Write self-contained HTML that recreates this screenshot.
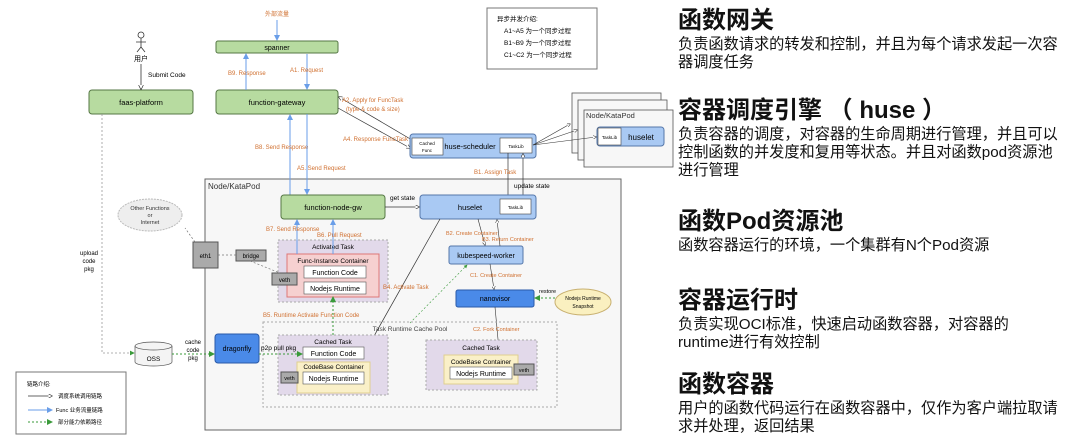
<!DOCTYPE html>
<html><head><meta charset="utf-8"><style>
body{margin:0;background:#fff;width:1080px;height:442px;overflow:hidden;font-family:"Liberation Sans","Noto Sans CJK SC",sans-serif}
svg{position:absolute;left:0;top:0}
.r{position:absolute;left:678px;color:#111}
.t{font-size:24px;font-weight:bold;line-height:28px}
.b{font-size:15.2px;line-height:18px;white-space:nowrap}
</style></head><body>
<svg width="680" height="442" viewBox="0 0 680 442" font-family="Liberation Sans, Noto Sans CJK SC, sans-serif">
<defs>
<marker id="ab" markerWidth="6" markerHeight="6" refX="5" refY="3" orient="auto"><path d="M0,0 L6,3 L0,6" fill="#fff" stroke="#222" stroke-width="0.8"/></marker>
<marker id="ablue" markerWidth="6" markerHeight="6" refX="5" refY="3" orient="auto"><path d="M0,0 L6,3 L0,6z" fill="#6a9ee8"/></marker>
<marker id="ag" markerWidth="6" markerHeight="6" refX="5" refY="3" orient="auto"><path d="M0,0 L6,3 L0,6z" fill="#3a9a3a"/></marker>
</defs>
<rect x="205" y="179" width="416" height="251" fill="#f7f7f7" stroke="#666"/>
<text x="208" y="189" font-size="8" fill="#333">Node/KataPod</text>
<rect x="572" y="93" width="89" height="60" fill="#f7f7f7" stroke="#555" stroke-width="0.8"/>
<rect x="578" y="100" width="89" height="60" fill="#f7f7f7" stroke="#555" stroke-width="0.8"/>
<rect x="584" y="110" width="89" height="57" fill="#f7f7f7" stroke="#555" stroke-width="0.8"/>
<text x="586" y="118" font-size="7.5" fill="#333">Node/KataPod</text>
<rect x="597" y="127" width="67" height="19" rx="3" fill="#a9c9f3" stroke="#5577aa"/>
<rect x="598" y="128" width="23" height="17" fill="#fff" stroke="#444" stroke-width="0.6"/>
<text x="609.5" y="139" font-size="4.5" text-anchor="middle">TaskLib</text>
<text x="641" y="140" font-size="8" text-anchor="middle">huselet</text>
<rect x="487" y="8" width="110" height="61" fill="#fff" stroke="#777"/>
<text x="497" y="21" font-size="6.5">异步并发介绍:</text>
<text x="504" y="33" font-size="6.5">A1~A5 为一个同步过程</text>
<text x="504" y="45" font-size="6.5">B1~B9 为一个同步过程</text>
<text x="504" y="57" font-size="6.5">C1~C2 为一个同步过程</text>
<text x="277" y="16" font-size="6" fill="#d07030" text-anchor="middle">外部流量</text>
<line x1="277" y1="20" x2="277" y2="40" stroke="#6a9ee8" marker-end="url(#ablue)"/>
<rect x="216" y="41" width="122" height="12" rx="2" fill="#b7dba0" stroke="#557744"/>
<text x="277" y="50" font-size="7" text-anchor="middle">spanner</text>
<rect x="216" y="90" width="122" height="24" rx="3" fill="#b7dba0" stroke="#557744"/>
<text x="277" y="105" font-size="7.5" text-anchor="middle">function-gateway</text>
<rect x="89" y="90" width="104" height="24" rx="3" fill="#b7dba0" stroke="#557744"/>
<text x="141" y="105" font-size="7.5" text-anchor="middle">faas-platform</text>
<circle cx="141" cy="35" r="3" fill="none" stroke="#333" stroke-width="0.8"/>
<path d="M141 38 V47 M136 42 H146 M141 47 L137 52 M141 47 L145 52" stroke="#333" stroke-width="0.8" fill="none"/>
<text x="141" y="61" font-size="7" text-anchor="middle">用户</text>
<line x1="141" y1="64" x2="141" y2="89" stroke="#333" stroke-width="0.8" marker-end="url(#ab)"/>
<text x="148" y="77" font-size="6.5">Submit Code</text>
<line x1="246" y1="90" x2="246" y2="54" stroke="#6a9ee8" marker-end="url(#ablue)"/>
<text x="228" y="75" font-size="6" fill="#d07030">B9. Response</text>
<line x1="307" y1="54" x2="307" y2="89" stroke="#6a9ee8" marker-end="url(#ablue)"/>
<text x="290" y="72" font-size="6" fill="#d07030">A1. Request</text>
<line x1="290" y1="195" x2="290" y2="115" stroke="#6a9ee8" marker-end="url(#ablue)"/>
<text x="255" y="149" font-size="6" fill="#d07030">B8. Send Response</text>
<line x1="307" y1="114" x2="307" y2="194" stroke="#6a9ee8" marker-end="url(#ablue)"/>
<text x="297" y="170" font-size="6" fill="#d07030">A5. Send Request</text>
<line x1="338" y1="108" x2="410" y2="148" stroke="#333" stroke-width="0.7" marker-end="url(#ab)"/>
<line x1="412" y1="140" x2="339" y2="97" stroke="#333" stroke-width="0.7" marker-end="url(#ab)"/>
<text x="342" y="102" font-size="6" fill="#d07030">A2. Apply for FuncTask</text>
<text x="346" y="111" font-size="6" fill="#d07030">(type &amp; code &amp; size)</text>
<text x="343" y="141" font-size="6" fill="#d07030">A4. Response FuncTask</text>
<rect x="410" y="134" width="126" height="24" rx="3" fill="#a9c9f3" stroke="#5577aa"/>
<rect x="412" y="138" width="31" height="17" fill="#fff" stroke="#444" stroke-width="0.6"/>
<text x="427" y="145" font-size="4.5" text-anchor="middle">Cached</text>
<text x="427" y="152" font-size="4.5" text-anchor="middle">Func</text>
<text x="470" y="149" font-size="7.5" text-anchor="middle">huse-scheduler</text>
<rect x="500" y="138" width="32" height="15" fill="#fff" stroke="#444" stroke-width="0.6"/>
<text x="516" y="148" font-size="4.5" text-anchor="middle">TaskLib</text>
<line x1="533" y1="145" x2="570" y2="124" stroke="#333" stroke-width="0.6" marker-end="url(#ab)"/>
<line x1="533" y1="145" x2="577" y2="130" stroke="#333" stroke-width="0.6" marker-end="url(#ab)"/>
<line x1="533" y1="145" x2="596" y2="137" stroke="#333" stroke-width="0.6" marker-end="url(#ab)"/>
<line x1="508" y1="153" x2="508" y2="198" stroke="#333" stroke-width="0.7" marker-end="url(#ab)"/>
<line x1="523" y1="199" x2="523" y2="154" stroke="#333" stroke-width="0.7" marker-end="url(#ab)"/>
<text x="474" y="174" font-size="6" fill="#d07030">B1. Assign Task</text>
<text x="514" y="188" font-size="6.5">update state</text>
<rect x="281" y="195" width="104" height="24" rx="3" fill="#b7dba0" stroke="#557744"/>
<text x="333" y="210" font-size="7.5" text-anchor="middle">function-node-gw</text>
<line x1="385" y1="207" x2="419" y2="207" stroke="#333" stroke-width="0.7" marker-end="url(#ab)"/>
<text x="390" y="200" font-size="6.5">get state</text>
<rect x="420" y="195" width="116" height="24" rx="3" fill="#a9c9f3" stroke="#5577aa"/>
<text x="470" y="210" font-size="7.5" text-anchor="middle">huselet</text>
<rect x="500" y="199" width="31" height="15" fill="#fff" stroke="#444" stroke-width="0.6"/>
<text x="515.5" y="209" font-size="4.5" text-anchor="middle">TaskLib</text>
<rect x="278" y="240" width="110" height="62" fill="#e2d9ea" stroke="#aaa" stroke-dasharray="2,2"/>
<text x="333" y="249" font-size="6.5" text-anchor="middle">Activated Task</text>
<rect x="287" y="254" width="92" height="43" fill="#f6d0d0" stroke="#d77"/>
<text x="333" y="263" font-size="6.5" text-anchor="middle">Func-Instance Container</text>
<rect x="304" y="266" width="62" height="12" fill="#fff" stroke="#555" stroke-width="0.6"/>
<text x="335" y="275" font-size="7" text-anchor="middle">Function Code</text>
<rect x="304" y="282" width="62" height="12" fill="#fff" stroke="#555" stroke-width="0.6"/>
<text x="335" y="291" font-size="7" text-anchor="middle">Nodejs Runtime</text>
<rect x="272" y="273" width="25" height="12" fill="#aaa" stroke="#555"/>
<text x="284.5" y="282" font-size="6" text-anchor="middle">veth</text>
<line x1="297" y1="254" x2="297" y2="220" stroke="#6a9ee8" marker-end="url(#ablue)"/>
<line x1="333" y1="254" x2="333" y2="220" stroke="#6a9ee8" marker-end="url(#ablue)"/>
<text x="266" y="231" font-size="6" fill="#d07030">B7. Send Response</text>
<text x="317" y="237" font-size="6" fill="#d07030">B6. Pull Request</text>
<rect x="193" y="242" width="25" height="26" fill="#aaa" stroke="#555"/>
<text x="205.5" y="258" font-size="6" text-anchor="middle">eth1</text>
<rect x="236" y="250" width="30" height="11" fill="#aaa" stroke="#555"/>
<text x="251" y="258" font-size="6" text-anchor="middle">bridge</text>
<path d="M218 255 H236 M250 261 L280 273 M195 242 L185 228" stroke="#777" stroke-dasharray="2,2" fill="none" stroke-width="0.7"/>
<ellipse cx="150" cy="215" rx="32" ry="16" fill="#eee" stroke="#bbb" stroke-dasharray="2,1"/>
<text x="150" y="210" font-size="5.5" fill="#333" text-anchor="middle">Other Functions</text>
<text x="150" y="217" font-size="5.5" fill="#333" text-anchor="middle">or</text>
<text x="150" y="224" font-size="5.5" fill="#333" text-anchor="middle">Internet</text>
<rect x="449" y="246" width="74" height="18" rx="2" fill="#a9c9f3" stroke="#5577aa"/>
<text x="486" y="258" font-size="7" text-anchor="middle">kubespeed-worker</text>
<rect x="456" y="290" width="78" height="17" rx="2" fill="#4a8ae8" stroke="#2a5aa8"/>
<text x="495" y="301" font-size="7" text-anchor="middle">nanovisor</text>
<ellipse cx="583" cy="302" rx="28" ry="13" fill="#faf0c0" stroke="#c8b070"/>
<text x="583" y="300" font-size="5" text-anchor="middle">Nodejs Runtime</text>
<text x="583" y="308" font-size="5" text-anchor="middle">Snapshot</text>
<line x1="555" y1="298" x2="535" y2="298" stroke="#3a9a3a" stroke-dasharray="2,2" marker-end="url(#ag)"/>
<text x="539" y="293" font-size="5.5">restore</text>
<line x1="478" y1="219" x2="485" y2="245" stroke="#333" stroke-width="0.6" marker-end="url(#ab)"/>
<line x1="500" y1="246" x2="497" y2="220" stroke="#333" stroke-width="0.6" marker-end="url(#ab)"/>
<text x="446" y="235" font-size="5.5" fill="#d07030">B2. Create Container</text>
<text x="482" y="241" font-size="5.5" fill="#d07030">B3. Return Container</text>
<line x1="490" y1="264" x2="494" y2="289" stroke="#333" stroke-width="0.6" marker-end="url(#ab)"/>
<text x="470" y="277" font-size="5.5" fill="#d07030">C1. Create Container</text>
<line x1="495" y1="307" x2="499" y2="350" stroke="#333" stroke-width="0.6" marker-end="url(#ab)"/>
<text x="473" y="331" font-size="5.5" fill="#d07030">C2. Fork Container</text>
<line x1="440" y1="219" x2="365" y2="352" stroke="#333" stroke-width="0.7" marker-end="url(#ab)"/>
<text x="383" y="289" font-size="6" fill="#d07030">B4. Activate Task</text>
<line x1="410" y1="323" x2="467" y2="265" stroke="#3a9a3a" stroke-dasharray="2,2" stroke-width="0.6" marker-end="url(#ag)"/>
<rect x="263" y="322" width="294" height="85" fill="none" stroke="#aaa" stroke-dasharray="2,2"/>
<text x="410" y="331" font-size="6.5" fill="#444" text-anchor="middle">Task Runtime Cache Pool</text>
<text x="263" y="317" font-size="6" fill="#d07030">B5. Runtime Activate Function Code</text>
<line x1="333" y1="335" x2="333" y2="297" stroke="#3a9a3a" stroke-dasharray="2,2" marker-end="url(#ag)"/>
<rect x="278" y="335" width="110" height="60" fill="#e2d9ea" stroke="#aaa" stroke-dasharray="2,2"/>
<text x="333" y="344" font-size="6.5" text-anchor="middle">Cached Task</text>
<rect x="303" y="347" width="61" height="12" fill="#fff" stroke="#555" stroke-width="0.6"/>
<text x="333.5" y="356" font-size="7" text-anchor="middle">Function Code</text>
<rect x="297" y="362" width="73" height="31" fill="#faf0c8" stroke="#e0d090"/>
<text x="333.5" y="369" font-size="6.5" text-anchor="middle">CodeBase Container</text>
<rect x="303" y="372" width="61" height="12" fill="#fff" stroke="#555" stroke-width="0.6"/>
<text x="333.5" y="381" font-size="7" text-anchor="middle">Nodejs Runtime</text>
<rect x="281" y="372" width="17" height="11" fill="#aaa" stroke="#555"/>
<text x="289.5" y="380" font-size="5.5" text-anchor="middle">veth</text>
<rect x="426" y="340" width="111" height="50" fill="#e2d9ea" stroke="#aaa" stroke-dasharray="2,2"/>
<text x="481" y="350" font-size="6.5" text-anchor="middle">Cached Task</text>
<rect x="444" y="355" width="74" height="29" fill="#faf0c8" stroke="#e0d090"/>
<text x="481" y="364" font-size="6.5" text-anchor="middle">CodeBase Container</text>
<rect x="450" y="367" width="62" height="12" fill="#fff" stroke="#555" stroke-width="0.6"/>
<text x="481" y="376" font-size="7" text-anchor="middle">Nodejs Runtime</text>
<rect x="514" y="364" width="20" height="11" fill="#aaa" stroke="#555"/>
<text x="524" y="372" font-size="5.5" text-anchor="middle">veth</text>
<rect x="215" y="334" width="44" height="29" rx="3" fill="#4a8ae8" stroke="#2a5aa8"/>
<text x="237" y="351" font-size="7" text-anchor="middle">dragonfly</text>
<line x1="259" y1="354" x2="302" y2="354" stroke="#3a9a3a" stroke-dasharray="2,2" marker-end="url(#ag)"/>
<text x="261" y="350" font-size="6.5">p2p pull pkg</text>
<path d="M135 346 V362 A18.5 4 0 0 0 172 362 V346" fill="#f4f4f4" stroke="#555" stroke-width="0.7"/>
<ellipse cx="153.5" cy="346" rx="18.5" ry="4" fill="#f4f4f4" stroke="#555" stroke-width="0.7"/>
<text x="153.5" y="361" font-size="6.5" text-anchor="middle">OSS</text>
<line x1="172" y1="354" x2="214" y2="354" stroke="#3a9a3a" stroke-dasharray="2,2" marker-end="url(#ag)"/>
<text x="193" y="344" font-size="6" text-anchor="middle">cache</text>
<text x="193" y="352" font-size="6" text-anchor="middle">code</text>
<text x="193" y="360" font-size="6" text-anchor="middle">pkg</text>
<path d="M102 114 V353 H134" fill="none" stroke="#999" stroke-dasharray="2,2" stroke-width="0.8" marker-end="url(#ag)"/>
<text x="89" y="255" font-size="6" text-anchor="middle">upload</text>
<text x="89" y="263" font-size="6" text-anchor="middle">code</text>
<text x="89" y="271" font-size="6" text-anchor="middle">pkg</text>
<rect x="16" y="372" width="110" height="62" fill="#fff" stroke="#777"/>
<text x="27" y="386" font-size="5.5">链路介绍:</text>
<line x1="28" y1="396" x2="52" y2="396" stroke="#333" stroke-width="0.7" marker-end="url(#ab)"/>
<text x="58" y="398" font-size="5.5">调度系统调用链路</text>
<line x1="28" y1="410" x2="52" y2="410" stroke="#6a9ee8" marker-end="url(#ablue)"/>
<text x="56" y="412" font-size="5.5">Func 业务流量链路</text>
<line x1="28" y1="422" x2="52" y2="422" stroke="#3a9a3a" stroke-dasharray="2,2" marker-end="url(#ag)"/>
<text x="58" y="424" font-size="5.5">部分能力依赖路径</text>
</svg>
<div class="r t" style="top:7px">函数网关</div>
<div class="r b" style="top:36px">负责函数请求的转发和控制，并且为每个请求发起一次容<br>器调度任务</div>
<div class="r t" style="top:97px">容器调度引擎 （ huse ）</div>
<div class="r b" style="top:126px">负责容器的调度，对容器的生命周期进行管理，并且可以<br>控制函数的并发度和复用等状态。并且对函数pod资源池<br>进行管理</div>
<div class="r t" style="top:208px">函数Pod资源池</div>
<div class="r b" style="top:237px">函数容器运行的环境，一个集群有N个Pod资源</div>
<div class="r t" style="top:287px">容器运行时</div>
<div class="r b" style="top:316px">负责实现OCI标准，快速启动函数容器，对容器的<br>runtime进行有效控制</div>
<div class="r t" style="top:371px">函数容器</div>
<div class="r b" style="top:400px">用户的函数代码运行在函数容器中，仅作为客户端拉取请<br>求并处理，返回结果</div>
</body></html>
